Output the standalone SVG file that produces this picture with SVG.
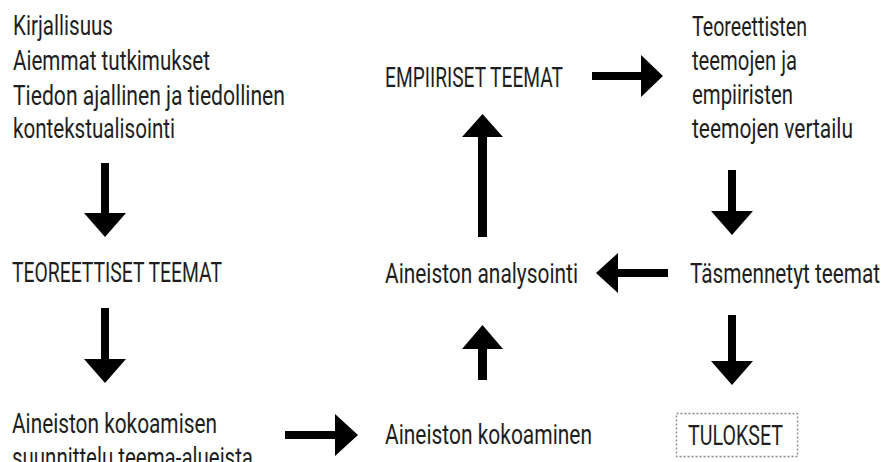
<svg xmlns="http://www.w3.org/2000/svg" width="883" height="462" viewBox="0 0 883 462">
<style>
text{font-family:Roboto,"Liberation Sans",sans-serif;font-size:28px;fill:#1e1e1e}
.arrow{fill:#000}
.box{fill:none;stroke:#8a8a8a;stroke-width:1.3;stroke-dasharray:2 2}
</style>
<rect width="883" height="462" fill="#fff"/>
<g id="connectors">
<path class="arrow" d="M101,163H109V213H126L105,237L84,213H101Z"/>
<path class="arrow" d="M101,308H109V359H126L105,383L84,359H101Z"/>
<path class="arrow" d="M285,431H335V414L358,435L335,456V439H285Z"/>
<path class="arrow" d="M478,237V137H462L482.5,114L503,137H487V237Z"/>
<path class="arrow" d="M478,380V349H462L482.5,325L503,349H487V380Z"/>
<path class="arrow" d="M592,72H641V55L663,76L641,97V80H592Z"/>
<path class="arrow" d="M728,170H736V211H753L732,235L711,211H728Z"/>
<path class="arrow" d="M728,315H736V361H753L732,385L711,361H728Z"/>
<path class="arrow" d="M668,269H618V253L596,273L618,293V277H668Z"/>
</g>
<g id="sources">
<text x="13" y="35" textLength="100" lengthAdjust="spacingAndGlyphs">Kirjallisuus</text>
<text x="13" y="70" textLength="197" lengthAdjust="spacingAndGlyphs">Aiemmat tutkimukset</text>
<text x="13" y="105" textLength="272" lengthAdjust="spacingAndGlyphs">Tiedon ajallinen ja tiedollinen</text>
<text x="13" y="138" textLength="162" lengthAdjust="spacingAndGlyphs">kontekstualisointi</text>
</g>
<g id="teoreettiset">
<text x="12" y="282" textLength="210" lengthAdjust="spacingAndGlyphs">TEOREETTISET TEEMAT</text>
</g>
<g id="suunnittelu">
<text x="12" y="433" textLength="205" lengthAdjust="spacingAndGlyphs">Aineiston kokoamisen</text>
<text x="12" y="467" textLength="241" lengthAdjust="spacingAndGlyphs">suunnittelu teema-alueista</text>
</g>
<g id="kokoaminen">
<text x="385" y="444" textLength="207" lengthAdjust="spacingAndGlyphs">Aineiston kokoaminen</text>
</g>
<g id="analysointi">
<text x="385" y="283" textLength="193" lengthAdjust="spacingAndGlyphs">Aineiston analysointi</text>
</g>
<g id="empiiriset">
<text x="385" y="87" textLength="178" lengthAdjust="spacingAndGlyphs">EMPIIRISET TEEMAT</text>
</g>
<g id="vertailu">
<text x="692" y="36" textLength="115" lengthAdjust="spacingAndGlyphs">Teoreettisten</text>
<text x="692" y="70" textLength="105" lengthAdjust="spacingAndGlyphs">teemojen ja</text>
<text x="692" y="104" textLength="101" lengthAdjust="spacingAndGlyphs">empiiristen</text>
<text x="692" y="138" textLength="161" lengthAdjust="spacingAndGlyphs">teemojen vertailu</text>
</g>
<g id="tasmennetyt">
<text x="690" y="283" textLength="190" lengthAdjust="spacingAndGlyphs">Täsmennetyt teemat</text>
</g>
<g id="tulokset">
<rect class="box" x="676.5" y="413.5" width="121" height="43"/>
<text x="688" y="445" textLength="95" lengthAdjust="spacingAndGlyphs">TULOKSET</text>
</g>
</svg>
